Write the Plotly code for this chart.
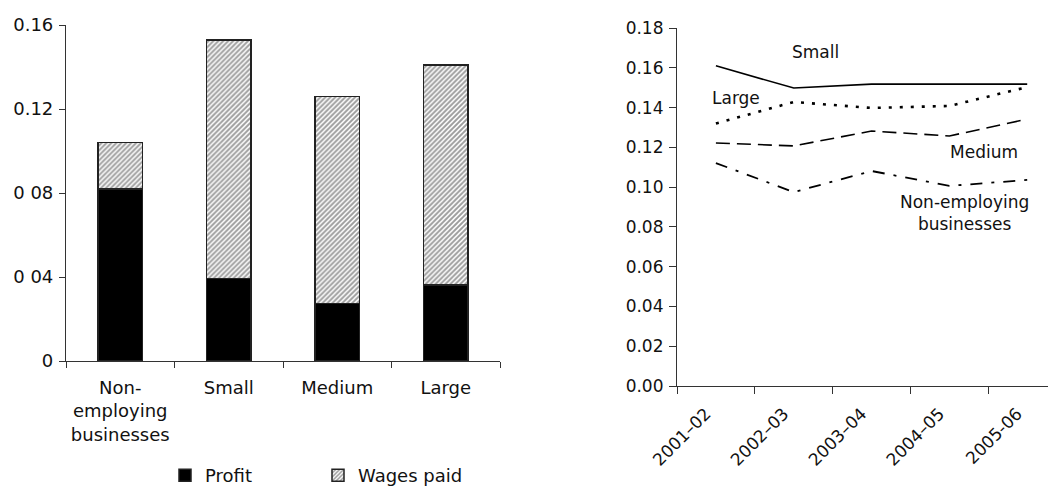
import plotly.graph_objects as go

# ---- Left chart data ----
bar_categories = ["Non-<br>employing<br>businesses", "Small", "Medium", "Large"]
profit = [0.082, 0.0394, 0.0275, 0.0362]
wages_paid = [0.022, 0.1135, 0.0984, 0.1048]
left_tickvals = [0, 0.04, 0.08, 0.12, 0.16]
left_ticktext = ["0", "0 04", "0 08", "0.12", "0.16"]

# ---- Right chart data ----
years = ["2001\u201302", "2002\u201303", "2003\u201304", "2004\u201305", "2005-06"]
small = [0.161, 0.1498, 0.1518, 0.1518, 0.1518]
large = [0.132, 0.1428, 0.1398, 0.1408, 0.1503]
medium = [0.1222, 0.1207, 0.1282, 0.1257, 0.1342]
non_employing = [0.1121, 0.0975, 0.1081, 0.1006, 0.1036]
right_tickvals = [0, 0.02, 0.04, 0.06, 0.08, 0.10, 0.12, 0.14, 0.16, 0.18]

# page body adds an 8px offset; figure coordinates = screen - 8
OFF = 8
W, H = 1056 - OFF, 491 - OFF
FONT = "DejaVu Sans, Liberation Sans, Arial, sans-serif"
AX = "#333333"


def fx(px):
    return (px - OFF) / W


def fy(py):
    return 1 - (py - OFF) / H


fig = go.Figure()

fig.add_trace(go.Bar(
    x=bar_categories, y=profit, name="Profit",
    marker=dict(color="black", line=dict(color="#222", width=1.5)),
    xaxis="x", yaxis="y"))
fig.add_trace(go.Bar(
    x=bar_categories, y=wages_paid, name="Wages paid",
    marker=dict(color="white", line=dict(color="#222", width=1.5),
                pattern=dict(shape="/", fgcolor="#3a3a3a", bgcolor="white",
                             size=3.5, solidity=0.55)),
    xaxis="x", yaxis="y"))

line_styles = [
    ("Small", small, "solid", 1.6),
    ("Large", large, "3px,8px", 2.6),
    ("Medium", medium, "14px,7px", 1.6),
    ("Non-employing businesses", non_employing, "12px,9px,3px,9px", 1.8),
]
for name, vals, dash, w in line_styles:
    fig.add_trace(go.Scatter(
        x=years, y=vals, mode="lines", name=name, showlegend=False,
        line=dict(color="black", width=w, dash=dash),
        xaxis="x2", yaxis="y2"))

# line labels
labels = [
    ("Small", 1.28, 0.168),
    ("Large", 0.26, 0.145),
    ("Medium", 3.45, 0.1177),
    ("Non-employing<br>businesses", 3.19, 0.0869),
]
annotations = []
for txt, xv, yv in labels:
    annotations.append(dict(text=txt, x=xv, y=yv, xref="x2", yref="y2",
                            showarrow=False, font=dict(size=17, color="#111")))

fig.update_layout(
    width=W, height=H,
    margin=dict(l=0, r=0, t=0, b=0, autoexpand=False),
    paper_bgcolor="white", plot_bgcolor="white",
    font=dict(family=FONT, size=17, color="#111"),
    barmode="stack", bargap=0.59,
    showlegend=True,
    legend=dict(orientation="h", x=fx(165), y=fy(457), xanchor="left",
                yanchor="top", entrywidth=108, entrywidthmode="pixels",
                font=dict(size=18), traceorder="normal",
                itemclick=False),
    xaxis=dict(domain=[fx(66), fx(500)], type="category", tickson="boundaries",
               showline=True, linecolor=AX, linewidth=1.2, ticks="outside",
               ticklen=6, tickcolor=AX, showgrid=False, zeroline=False,
               tickfont=dict(size=18), anchor="y", automargin=False,
               ticklabelstandoff=10),
    yaxis=dict(domain=[fy(361), fy(25)], range=[0, 0.16],
               tickvals=left_tickvals, ticktext=left_ticktext,
               showline=True, linecolor=AX, linewidth=1.2, ticks="outside",
               ticklen=6, tickcolor=AX, showgrid=False, zeroline=False,
               tickfont=dict(size=18), anchor="x", automargin=False,
               ticklabelstandoff=2),
    xaxis2=dict(domain=[fx(677), 1.0], type="category", tickson="boundaries",
                range=[-0.5, 4.37], tickangle=-45,
                showline=True, linecolor=AX, linewidth=1.2, ticks="outside",
                ticklen=7, tickcolor=AX, showgrid=False, zeroline=False,
                tickfont=dict(size=17), anchor="y2", automargin=False,
                ticklabelstandoff=10, ticklabelshift=-10),
    yaxis2=dict(domain=[fy(386), fy(28)], range=[0, 0.18],
                tickvals=right_tickvals, tickformat=".2f",
                showline=True, linecolor=AX, linewidth=1.2, ticks="outside",
                ticklen=7, tickcolor=AX, showgrid=False, zeroline=False,
                tickfont=dict(size=17), anchor="x2", automargin=False,
                ticklabelstandoff=2),
    annotations=annotations,
)

fig.write_html("out.html")
